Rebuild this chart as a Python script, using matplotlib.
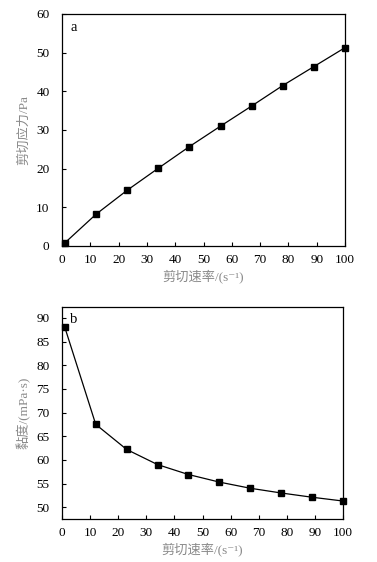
import matplotlib
matplotlib.use('Agg')
import matplotlib.pyplot as plt

# Data
shearRate   = [1, 12, 23, 34, 45, 56, 67, 78, 89, 100]
shearStress = [0.8, 8.2, 14.4, 20.1, 25.7, 31.0, 36.2, 41.5, 46.4, 51.3]
viscosity   = [88.0, 67.5, 62.2, 59.0, 56.9, 55.3, 54.0, 53.0, 52.1, 51.3]

xTicks  = [0, 10, 20, 30, 40, 50, 60, 70, 80, 90, 100]
yTicksA = [0, 10, 20, 30, 40, 50, 60]
yTicksB = [50, 55, 60, 65, 70, 75, 80, 85, 90]

serif = ['Liberation Serif', 'DejaVu Serif']
mixed = ['Liberation Serif', 'Noto Sans CJK SC', 'DejaVu Sans']
labelColor = '#8a8a8a'

plt.rcParams['font.family'] = serif

fig = plt.figure(figsize = (3.77, 5.62), dpi = 100)

def styleAxes(ax, yTicks, ylim, letter):
    ax.set_xlim(0, 100)
    ax.set_ylim(*ylim)
    ax.set_xticks(xTicks)
    ax.set_yticks(yTicks)
    ax.tick_params(direction = 'in', length = 3, width = 0.8, labelsize = 9.5)
    ax.tick_params(axis = 'x', pad = 6)
    ax.tick_params(axis = 'y', pad = 9)
    for s in ax.spines.values():
        s.set_linewidth(0.9)
    ax.text(0.03, 0.97, letter, transform = ax.transAxes, ha = 'left', va = 'top', fontsize = 10.5)
    ax.set_xlabel('剪切速率/(s⁻¹)', family = mixed, fontsize = 9.5, color = labelColor, labelpad = 2)

# Plot a : shear stress
axA = fig.add_axes([0.1645, 0.5623, 0.7507, 0.4128])
axA.plot(shearRate, shearStress, color = 'black', lw = 0.9, marker = 's', ms = 4.5, clip_on = False)
styleAxes(axA, yTicksA, (0, 60), 'a')
axA.set_ylabel('剪切应力/Pa', family = mixed, fontsize = 9.5, color = labelColor, labelpad = 4)

# Plot b : viscosity
axB = fig.add_axes([0.1645, 0.0765, 0.7453, 0.3772])
axB.plot(shearRate, viscosity, color = 'black', lw = 0.9, marker = 's', ms = 4.5, clip_on = False)
styleAxes(axB, yTicksB, (47.5, 92.3), 'b')
axB.set_ylabel('黏度/(mPa·s)', family = mixed, fontsize = 9.5, color = labelColor, labelpad = 4)

fig.savefig('out.png', dpi = 100)
